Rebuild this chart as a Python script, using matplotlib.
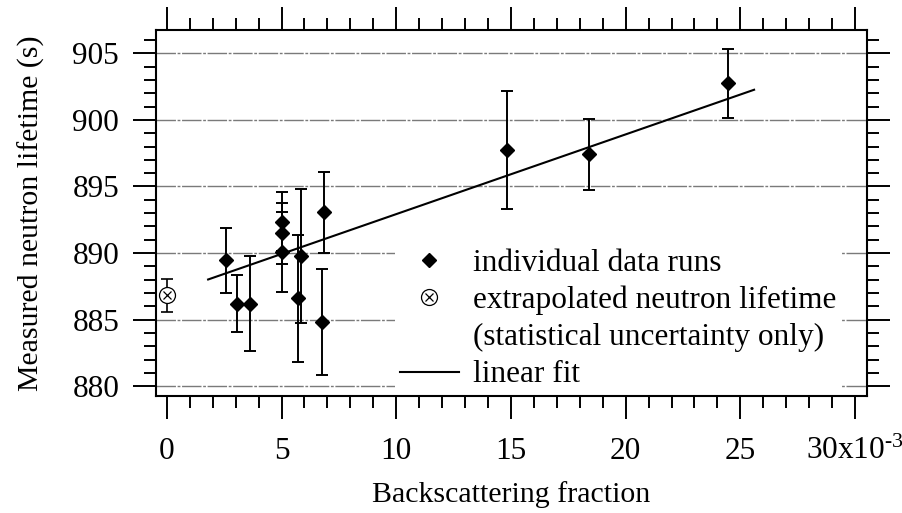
import matplotlib
matplotlib.use("Agg")
import matplotlib.pyplot as plt
import numpy as np
from matplotlib.lines import Line2D
from matplotlib.ticker import FixedLocator, MultipleLocator

plt.rcParams['font.family'] = ['Liberation Serif', 'DejaVu Serif']
plt.rcParams['mathtext.fontset'] = 'custom'
plt.rcParams['mathtext.rm'] = 'Liberation Serif'
plt.rcParams['mathtext.it'] = 'Liberation Serif:italic'

# ---- data (x in units of 1e-3) ----
run_x = [2.59, 3.08, 3.63, 5.04, 5.04, 5.04, 5.71, 5.85, 6.78, 6.83, 14.85, 18.42, 24.45]
run_y = [889.47, 886.2, 886.2, 892.35, 891.48, 890.05, 886.6, 889.77, 884.83, 893.06, 897.74, 897.42, 902.76]
run_err = [2.45, 2.15, 3.55, 2.2, 2.3, 3.0, 4.75, 5.05, 4.0, 3.05, 4.4, 2.65, 2.6]

extrap_x = [0.0]
extrap_y = [886.84]
extrap_err = [1.23]

fit_intercept = 886.94
fit_slope = 0.5986          # seconds per 1e-3
fit_range = [1.8, 25.6]

x_ticks = [0, 5, 10, 15, 20, 25, 30]
x_ticklabels = ['0', '5', '10', '15', '20', '25', r'30x10$^{\text{-}3}$']
y_ticks = [880, 885, 890, 895, 900, 905]

FS = 22.5

fig = plt.figure(figsize=(9.03, 5.13), dpi=100)
ax = fig.add_axes([0.1728, 0.2281, 0.7873, 0.7134])

ax.set_xlim(-0.47, 30.52)
ax.set_ylim(879.27, 906.75)

for yv in y_ticks:
    ax.axhline(yv, color='#7a7a7a', lw=1.0, ls=(0, (14, 1.2, 2, 1.2)), zorder=0)

ax.errorbar(run_x, run_y, yerr=run_err, fmt='D', ms=7, color='black',
            ecolor='black', elinewidth=1.4, capsize=4, capthick=1.4, zorder=3)

ax.errorbar(extrap_x, extrap_y, yerr=extrap_err, fmt='none', ecolor='black',
            elinewidth=1.2, capsize=4, capthick=1.2, zorder=3)
ax.plot(extrap_x, extrap_y, 'o', ms=11.5, mfc='white', mec='black', mew=0.9, zorder=4)
ax.plot(extrap_x, extrap_y, 'x', ms=6, mec='black', mew=0.9, zorder=5)

fx = np.array(fit_range)
ax.plot(fx, fit_intercept + fit_slope * fx, color='black', lw=1.5, zorder=2)

ax.xaxis.set_major_locator(FixedLocator(x_ticks))
ax.set_xticklabels(x_ticklabels)
ax.xaxis.set_minor_locator(MultipleLocator(1))
ax.yaxis.set_major_locator(FixedLocator(y_ticks))
ax.yaxis.set_minor_locator(MultipleLocator(1))

ax.tick_params(which='both', direction='out', top=True, right=True,
               labeltop=False, labelright=False, width=1.4, labelsize=FS)
ax.tick_params(which='major', length=16.5)
ax.tick_params(which='minor', length=8.5)
ax.tick_params(axis='y', which='major', pad=10)
ax.tick_params(axis='x', which='major', pad=13)
for s in ax.spines.values():
    s.set_linewidth(1.5)

ax.set_xlabel('Backscattering fraction', fontsize=21.5, labelpad=11)
ax.set_ylabel('Measured neutron lifetime (s)', fontsize=21.5, labelpad=20)

# legend
h1 = Line2D([], [], marker='D', ms=7, color='black', ls='none')
h_o = Line2D([], [], marker='o', ms=11.5, mfc='white', mec='black', mew=0.9, ls='none')
h_x = Line2D([], [], marker='x', ms=6, mec='black', mew=0.9, ls='none')
h_blank = Line2D([], [], ls='none')
h3 = Line2D([], [], color='black', lw=1.5)
leg = ax.legend([h1, (h_o, h_x), h_blank, h3],
                ['individual data runs', 'extrapolated neutron lifetime',
                 '(statistical uncertainty only)', 'linear fit'],
                loc='lower left', bbox_to_anchor=(0.336, 0.005), borderaxespad=0,
                fontsize=FS, frameon=True, framealpha=1, facecolor='white',
                edgecolor='none', fancybox=False, handlelength=1.9,
                handletextpad=0.45, labelspacing=0.26, borderpad=0.15)
leg.set_zorder(6)

fig.savefig('out.png', dpi=100)
